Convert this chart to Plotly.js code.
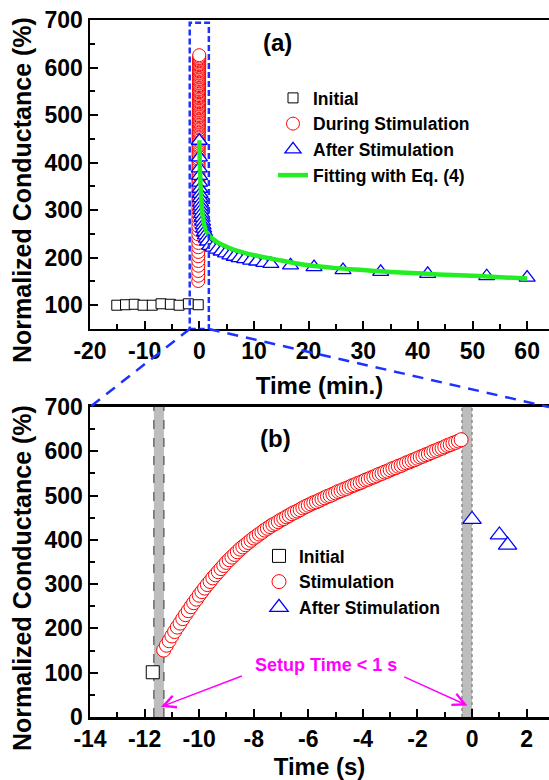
<!DOCTYPE html>
<html><head><meta charset="utf-8">
<script src="https://cdn.plot.ly/plotly-3.0.1.min.js"></script>
<style>html,body{margin:0;padding:0;background:#fff;}#chart{width:549px;height:780px;}</style>
</head><body><div id="chart"></div>
<script>
// ---------- data ----------
const initTimeMin = [-15.1, -13.5, -11.9, -10.3, -8.6, -7.0, -5.3, -3.7, -2.0, -0.195];
const initCond    = [100, 101, 102, 100, 100, 103, 102, 100, 103, 101];

const stimTimeSec = [-11.3,-11.2,-11.1,-11.0,-10.9,-10.8,-10.7,-10.6,-10.5,-10.4,
  -10.3,-10.2,-10.1,-10.0,-9.9,-9.8,-9.7,-9.6,-9.5,-9.4,
  -9.3,-9.2,-9.1,-9.0,-8.9,-8.8,-8.7,-8.6,-8.5,-8.4,
  -8.3,-8.2,-8.1,-8.0,-7.9,-7.8,-7.7,-7.6,-7.5,-7.4,
  -7.3,-7.2,-7.1,-7.0,-6.9,-6.8,-6.7,-6.6,-6.5,-6.4,
  -6.3,-6.2,-6.1,-6.0,-5.9,-5.8,-5.7,-5.6,-5.5,-5.4,
  -5.3,-5.2,-5.1,-5.0,-4.9,-4.8,-4.7,-4.6,-4.5,-4.4,
  -4.3,-4.2,-4.1,-4.0,-3.9,-3.8,-3.7,-3.6,-3.5,-3.4,
  -3.3,-3.2,-3.1,-3.0,-2.9,-2.8,-2.7,-2.6,-2.5,-2.4,
  -2.3,-2.2,-2.1,-2.0,-1.9,-1.8,-1.7,-1.6,-1.5,-1.4,
  -1.3,-1.2,-1.1,-1.0,-0.9,-0.8,-0.7,-0.6,-0.5,-0.4];
const stimCond = [151,162,172,183,193,203,212,222,231,240,
  249,258,266,275,283,291,299,306,314,321,
  328,335,342,349,355,361,367,373,379,384,
  389,394,399,404,408,413,417,422,426,430,
  434,437,441,445,448,452,455,459,462,465,
  468,472,475,478,481,484,486,489,492,495,
  498,500,503,506,509,511,514,516,519,522,
  524,527,529,532,535,537,540,542,545,548,
  550,553,555,558,561,563,566,568,571,574,
  576,579,581,584,587,589,592,594,597,600,
  602,605,607,610,613,615,618,620,623,626];

const afterTimeMin = [0, 0.0167, 0.0217, 0.055, 0.08, 0.12, 0.16, 0.2, 0.25, 0.3, 0.35, 0.42, 0.5, 0.6, 0.7, 0.8, 0.95,
  1.1, 1.3, 1.5, 1.9, 2.5, 3.2, 4.0, 4.8, 5.6, 6.4, 7.3, 8.3, 9.4, 10.5, 11.8, 13.1, 16.7, 21.0, 26.3, 33.2, 41.8, 52.6, 60];
const afterCond = [446, 411, 388, 372, 358, 345, 334, 325, 316, 308, 300, 292, 284, 276, 268, 261, 254,
  247, 240, 234, 225, 221, 217, 213, 209, 205, 202, 199, 197, 194, 192, 189, 187, 184, 180, 174, 170, 166, 161, 158];

const fitTimeMin = [0.02, 0.05, 0.1, 0.2, 0.3, 0.4, 0.5, 0.7, 1.0, 1.5, 2, 3, 4, 6, 8, 10, 15, 20, 25, 30, 35, 40, 45, 50, 55, 60];
const fitCond    = [447, 420, 395, 362, 336, 316, 301, 282, 265, 252, 244, 235, 228, 218, 211, 205, 194, 184, 178, 174, 170, 167, 164, 162, 159, 156];

const topXTickVals = [-20, -10, 0, 10, 20, 30, 40, 50, 60];
const topXTickText = ['-20', '-10', '0', '10', '20', '30', '40', '50', '60'];
const botXTickVals = [-14, -12, -10, -8, -6, -4, -2, 0, 2];
const botXTickText = ['-14', '-12', '-10', '-8', '-6', '-4', '-2', '0', '2'];

// ---------- styling ----------
const FONT = 'Liberation Sans, Arial, sans-serif';
const BLUE = 'rgb(30,50,255)';
const topXRange = [-20, 64];
const botXRange = [-14, 2.82];
const topDomain = [0.5567, 1];
const botDomain = [0, 0.4448];

const sq = (s) => ({symbol: 'square', size: s, color: 'white', line: {color: 'black', width: 1}});
const ci = (s) => ({symbol: 'circle', size: s, color: 'white', line: {color: 'red', width: 1}});
const tr = (s) => ({symbol: 'triangle-up', size: s, color: 'white', line: {color: 'blue', width: 1.3}});

const traces = [
  {x: initTimeMin, y: initCond, xaxis: 'x', yaxis: 'y', mode: 'markers', name: 'Initial', marker: sq(10), legend: 'legend'},
  {x: stimTimeSec.map(s => s / 60), y: stimCond, xaxis: 'x', yaxis: 'y', mode: 'markers', name: 'During Stimulation', marker: ci(13), legend: 'legend'},
  {x: afterTimeMin, y: afterCond, xaxis: 'x', yaxis: 'y', mode: 'markers', name: 'After Stimulation', marker: tr(14), legend: 'legend'},
  {x: fitTimeMin, y: fitCond, xaxis: 'x', yaxis: 'y', mode: 'lines', name: 'Fitting with Eq. (4)', line: {color: '#22ee22', width: 4.5, shape: 'spline'}, legend: 'legend'},
  {x: initTimeMin.map(m => m * 60), y: initCond, xaxis: 'x2', yaxis: 'y2', mode: 'markers', name: 'Initial', marker: sq(13), legend: 'legend2'},
  {x: stimTimeSec, y: stimCond, xaxis: 'x2', yaxis: 'y2', mode: 'markers', name: 'Stimulation', marker: ci(14), legend: 'legend2'},
  {x: afterTimeMin.map(m => m * 60), y: afterCond, xaxis: 'x2', yaxis: 'y2', mode: 'markers', name: 'After Stimulation', marker: tr(16), legend: 'legend2'}
];

const axCommon = {
  ticks: 'inside', ticklen: 8, tickwidth: 2, tickcolor: 'black',
  showline: true, linewidth: 2.5, linecolor: 'black', showgrid: false, zeroline: false,
  tickfont: {family: FONT, size: 23, weight: 'bold', color: 'black'}
};
const minorCommon = {ticks: 'inside', ticklen: 5, tickwidth: 2, tickcolor: 'black'};

const px2paperX = (px) => (px - 90) / 459;
const px2paperY = (py) => (717 - py) / 697;
const dataToPaperX = (v, r) => (v - r[0]) / (r[1] - r[0]);

const legendFont = {family: FONT, size: 17.5, weight: 'bold', color: 'black'};

const layout = {
  width: 549, height: 780,
  margin: {l: 90, r: 0, t: 20, b: 63, pad: 0},
  paper_bgcolor: 'white', plot_bgcolor: 'white',
  font: {family: FONT, color: 'black', weight: 'bold'},
  showlegend: true,
  xaxis: Object.assign({}, axCommon, {
    domain: [0, 1], anchor: 'y', range: topXRange, mirror: true,
    tickmode: 'array', tickvals: topXTickVals, ticktext: topXTickText,
    minor: Object.assign({}, minorCommon, {tickmode: 'linear', tick0: 0, dtick: 5}),
    title: {text: 'Time (min.)', font: {family: FONT, size: 24, weight: 'bold'}, standoff: 14}
  }),
  yaxis: Object.assign({}, axCommon, {
    domain: topDomain, anchor: 'x', range: [50, 700], tickmode: 'linear', tick0: 0, dtick: 100,
    minor: Object.assign({}, minorCommon, {tickmode: 'linear', tick0: 0, dtick: 50})
  }),
  xaxis2: Object.assign({}, axCommon, {
    domain: [0, 1], anchor: 'y2', range: botXRange, mirror: true,
    tickmode: 'array', tickvals: botXTickVals, ticktext: botXTickText,
    minor: Object.assign({}, minorCommon, {tickmode: 'linear', tick0: 0, dtick: 1}),
    title: {text: 'Time (s)', font: {family: FONT, size: 24, weight: 'bold'}, standoff: 14}
  }),
  yaxis2: Object.assign({}, axCommon, {
    domain: botDomain, anchor: 'x2', range: [0, 700], tickmode: 'linear', tick0: 0, dtick: 100,
    minor: Object.assign({}, minorCommon, {tickmode: 'linear', tick0: 0, dtick: 50})
  }),
  legend: {x: px2paperX(273), y: px2paperY(80), xanchor: 'left', yanchor: 'top',
    bgcolor: 'rgba(0,0,0,0)', borderwidth: 0, itemwidth: 30, traceorder: 'normal', font: legendFont},
  legend2: {x: px2paperX(259), y: px2paperY(538), xanchor: 'left', yanchor: 'top',
    bgcolor: 'rgba(0,0,0,0)', borderwidth: 0, itemwidth: 30, traceorder: 'normal', font: legendFont},
  shapes: [
    // gray bands (setup time) in panel b
    {type: 'rect', xref: 'x2', yref: 'y2', x0: -11.66, x1: -11.29, y0: 0, y1: 700, fillcolor: '#bdbdbd', line: {width: 0}, layer: 'below'},
    {type: 'line', xref: 'x2', yref: 'y2', x0: -11.66, x1: -11.66, y0: 0, y1: 700, line: {color: '#333', width: 1, dash: 'dash'}, layer: 'below'},
    {type: 'line', xref: 'x2', yref: 'y2', x0: -11.29, x1: -11.29, y0: 0, y1: 700, line: {color: '#333', width: 1, dash: 'dash'}, layer: 'below'},
    {type: 'rect', xref: 'x2', yref: 'y2', x0: -0.37, x1: 0, y0: 0, y1: 700, fillcolor: '#bdbdbd', line: {width: 0}, layer: 'below'},
    {type: 'line', xref: 'x2', yref: 'y2', x0: -0.37, x1: -0.37, y0: 0, y1: 700, line: {color: '#666', width: 1, dash: 'dot'}, layer: 'below'},
    {type: 'line', xref: 'x2', yref: 'y2', x0: 0, x1: 0, y0: 0, y1: 700, line: {color: '#666', width: 1, dash: 'dot'}, layer: 'below'},
    // zoom rectangle in panel a
    {type: 'rect', xref: 'x', yref: 'y', x0: -1.75, x1: 1.75, y0: 50, y1: 694, line: {color: BLUE, width: 2.5, dash: '6px,3px'}, fillcolor: 'rgba(0,0,0,0)'},
    // connectors
    {type: 'line', xref: 'paper', yref: 'paper', x0: dataToPaperX(-1.75, topXRange), y0: topDomain[0], x1: 0, y1: botDomain[1], line: {color: BLUE, width: 2.5, dash: '11px,8px'}},
    {type: 'line', xref: 'paper', yref: 'paper', x0: dataToPaperX(1.75, topXRange), y0: topDomain[0], x1: 1, y1: botDomain[1], line: {color: BLUE, width: 2.5, dash: '11px,8px'}}
  ],
  annotations: [
    {text: 'Normalized Conductance (%)', xref: 'paper', yref: 'paper', x: px2paperX(22), y: px2paperY(190), textangle: -90,
      showarrow: false, xanchor: 'center', yanchor: 'middle', font: {family: FONT, size: 25, weight: 'bold'}},
    {text: 'Normalized Conductance (%)', xref: 'paper', yref: 'paper', x: px2paperX(22), y: px2paperY(578), textangle: -90,
      showarrow: false, xanchor: 'center', yanchor: 'middle', font: {family: FONT, size: 25, weight: 'bold'}},
    {text: '(a)', xref: 'paper', yref: 'paper', x: px2paperX(277), y: px2paperY(42.5), showarrow: false,
      xanchor: 'center', yanchor: 'middle', font: {family: FONT, size: 24, weight: 'bold'}},
    {text: '(b)', xref: 'paper', yref: 'paper', x: px2paperX(275), y: px2paperY(439), showarrow: false,
      xanchor: 'center', yanchor: 'middle', font: {family: FONT, size: 24, weight: 'bold'}},
    {text: 'Setup Time &lt; 1 s', xref: 'x2', yref: 'y2', x: -5.37, y: 117, showarrow: false,
      xanchor: 'center', yanchor: 'middle', font: {family: FONT, size: 18, weight: 'bold', color: '#ff00ff'}},
    {text: '', xref: 'x2', yref: 'y2', x: -11.40, y: 23, axref: 'x2', ayref: 'y2', ax: -8.38, ay: 94,
      showarrow: true, arrowhead: 5, arrowsize: 1.6, arrowwidth: 1.5, arrowcolor: '#ff00ff', standoff: 0},
    {text: '', xref: 'x2', yref: 'y2', x: -0.17, y: 26, axref: 'x2', ayref: 'y2', ax: -2.54, ay: 92,
      showarrow: true, arrowhead: 5, arrowsize: 1.6, arrowwidth: 1.5, arrowcolor: '#ff00ff', standoff: 0}
  ]
};

Plotly.newPlot('chart', traces, layout, {displayModeBar: false, staticPlot: true});
</script>
</body></html>
